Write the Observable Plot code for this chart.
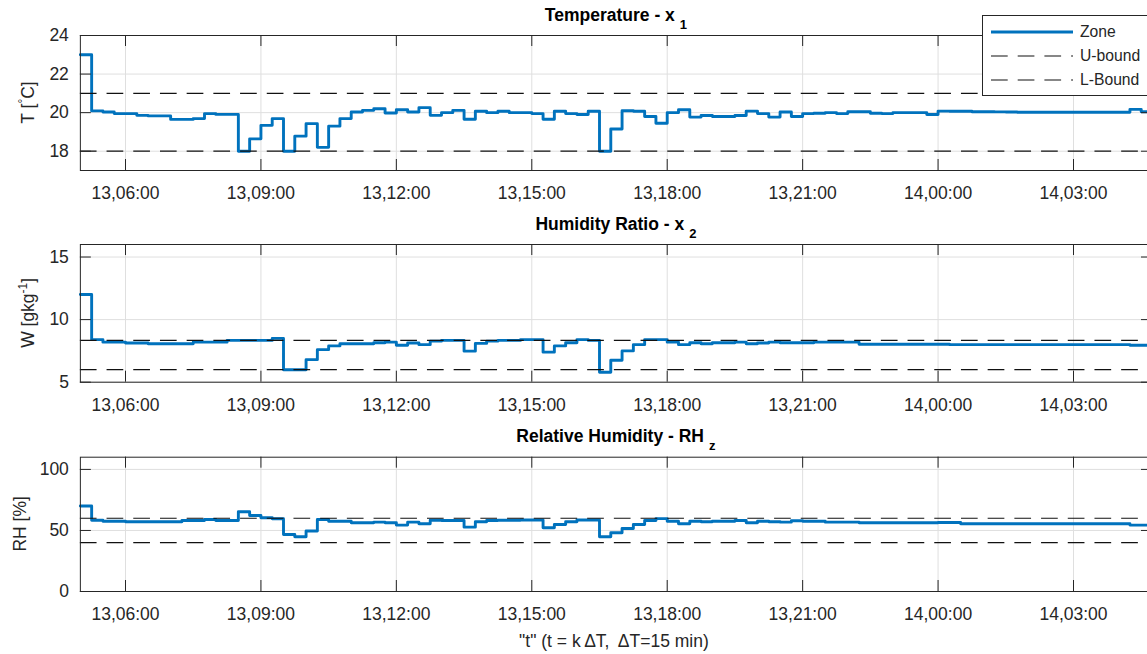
<!DOCTYPE html>
<html>
<head>
<meta charset="utf-8">
<script src="https://cdn.jsdelivr.net/npm/d3@7"></script>
<script src="https://cdn.jsdelivr.net/npm/@observablehq/plot@0.6"></script>
<style>
  html, body { margin: 0; padding: 0; background: #fff; }
  body { width: 1147px; height: 654px; overflow: hidden; position: relative; font-family: "Liberation Sans", Arial, sans-serif; }
  .panel { position: absolute; left: 0; width: 1147px; }
  .panel svg { overflow: hidden; }
</style>
</head>
<body>
<div id="p1" class="panel" style="top:0px"></div>
<div id="p2" class="panel" style="top:214px"></div>
<div id="p3" class="panel" style="top:424px"></div>
<script>
// ---- data ----
const nSteps = 95; // 15-min steps from day 13, 05:00
const tickPositions = [4, 16, 28, 40, 52, 64, 76, 88];
const tickLabels = ["13,06:00", "13,09:00", "13,12:00", "13,15:00", "13,18:00", "13,21:00", "14,00:00", "14,03:00"];

const temperature = [
  23, 20.09, 20.03, 19.95, 19.95, 19.86, 19.83, 19.83, 19.65, 19.65,
  19.69, 19.95, 19.91, 19.91, 18.0, 18.64, 19.34, 19.69, 18.0, 18.78,
  19.43, 18.2, 19.3, 19.69, 20.03, 20.12, 20.2, 19.98, 20.15, 20.03,
  20.26, 19.86, 20.0, 20.12, 19.66, 20.07, 20.0, 20.07, 20.0, 20.0,
  19.95, 19.66, 20.07, 19.95, 19.9, 20.07, 18.0, 19.15, 20.1, 20.07,
  19.8, 19.45, 20.0, 20.15, 19.77, 19.85, 19.8, 19.8, 19.85, 20.08,
  19.95, 19.77, 20.03, 19.8, 19.95, 19.97, 20.0, 19.95, 20.05, 20.05,
  19.97, 19.95, 20.0, 20.0, 20.0, 19.9, 20.08, 20.07, 20.07, 20.05,
  20.05, 20.04, 20.03, 20.02, 20.02, 20.02, 20.02, 20.02, 20.02, 20.02,
  20.02, 20.02, 20.02, 20.17, 20.05
];
const humidity = [
  12.0, 8.4, 8.2, 8.2, 8.13, 8.13, 8.07, 8.07, 8.07, 8.07,
  8.2, 8.2, 8.2, 8.34, 8.34, 8.34, 8.34, 8.5, 6.0, 6.0,
  6.8, 7.6, 7.9, 8.07, 8.07, 8.07, 8.15, 8.2, 7.95, 8.13,
  8.0, 8.28, 8.34, 8.34, 7.48, 8.1, 8.28, 8.34, 8.34, 8.4,
  8.4, 7.4, 7.9, 8.15, 8.4, 8.34, 5.8, 6.75, 7.5, 8.0,
  8.4, 8.4, 8.2, 8.0, 8.15, 8.07, 8.15, 8.15, 8.2, 8.07,
  8.13, 8.2, 8.15, 8.15, 8.15, 8.2, 8.2, 8.2, 8.2, 8.03,
  8.03, 8.03, 8.03, 8.03, 8.03, 8.03, 8.03, 8.0, 8.0, 8.0,
  8.0, 8.0, 8.0, 8.0, 8.0, 8.0, 8.0, 8.0, 8.0, 8.0,
  8.0, 8.0, 8.0, 7.95, 7.95
];
const relHumidity = [
  70, 58.4, 57.6, 57.6, 57.1, 57.1, 57.1, 57.1, 57.1, 58.2,
  58.2, 59, 58.2, 58.2, 65.3, 62.3, 60.4, 59.6, 46.7, 44.8,
  49.5, 59, 57.6, 57.6, 56.3, 56.3, 56.8, 56.3, 54.4, 56.8,
  55.5, 58.4, 58.1, 58.1, 52.7, 57.1, 58.1, 58.4, 58.4, 58.6,
  58.6, 52.2, 54.9, 57.1, 58.6, 58.6, 44.8, 48.1, 51.6, 54.9,
  58.1, 59.7, 57.6, 55.5, 57.6, 57.1, 57.6, 57.6, 58.1, 56.3,
  57.6, 57.1, 56.8, 58, 57.5, 57.5, 56.8, 56.8, 56.8, 56.3,
  56.3, 56.3, 56.3, 56.3, 56.3, 56.3, 56.5, 56.5, 55.5, 55.5,
  55.5, 55.5, 55.5, 55.5, 55.5, 55.5, 55.5, 55.5, 55.5, 55.5,
  55.5, 55.5, 55.5, 54.4, 54.4
];
const tempBounds = [21, 18];
const humBounds = [8.34, 6];
const rhBounds = [60, 40];
const legendLabels = ["Zone", "U-bound", "L-Bound"];

// ---- layout / style ----
const W = 1147, X0 = 79.86, X1 = 1152;
const BLUE = "#0072BD", AX = "#262626", GRID = "#dfdfdf";
const FONT = "Liberation Sans, Arial, Helvetica, sans-serif";
const FS = 17.5;
const DASH = "16.7,10";
const LW = 2.9;

function panel(el, cfg) {
  const {values, bounds, yDomain, yTicks, height, mt, mb, title, sub, ylab, ylabX} = cfg;
  const rows = values.map((v, i) => ({k: i, v}));
  rows.push({k: nSteps, v: values[values.length - 1]});
  const fh = height - mt - mb, fw = X1 - X0;
  const svgEl = Plot.plot({
    width: W, height,
    marginLeft: X0, marginRight: W - X1, marginTop: mt, marginBottom: mb,
    x: {domain: [0, nSteps], range: [X0, X1]},
    y: {domain: yDomain},
    style: {fontFamily: FONT, fontSize: FS + "px", color: AX, background: "white"},
    marks: [
      Plot.gridX(tickPositions, {stroke: GRID, strokeOpacity: 1, strokeWidth: 1}),
      Plot.gridY(yTicks, {stroke: GRID, strokeOpacity: 1, strokeWidth: 1}),
      Plot.line(rows, {x: "k", y: "v", curve: "step-after", stroke: BLUE, strokeWidth: LW}),
      Plot.ruleY(bounds, {stroke: "#111", strokeWidth: 1.2, strokeDasharray: DASH}),
      Plot.frame({stroke: AX, strokeWidth: 1}),
      Plot.ruleX(tickPositions, {stroke: AX, insetTop: fh - 11}),
      Plot.ruleX(tickPositions, {stroke: AX, insetBottom: fh - 11}),
      Plot.ruleY(yTicks, {stroke: AX, insetRight: fw - 11}),
      Plot.ruleY(yTicks, {stroke: AX, insetLeft: fw - 11}),
      Plot.axisX(tickPositions, {tickSize: 0, tickPadding: 16.5, label: null,
        tickFormat: d => tickLabels[tickPositions.indexOf(d)], fill: AX}),
      Plot.axisY(yTicks, {tickSize: 0, tickPadding: 11.5, label: null, fill: AX})
    ]
  });
  el.appendChild(svgEl);
  const svg = d3.select(svgEl);
  // title
  const t = svg.append("text")
    .attr("x", (X0 + X1) / 2).attr("y", mt - 14.5)
    .attr("text-anchor", "middle").attr("font-family", FONT)
    .attr("font-weight", "bold").attr("font-size", FS).attr("fill", "#000");
  t.append("tspan").text(title);
  t.append("tspan").attr("dx", 5).attr("dy", 8).attr("font-size", 13).text(sub);
  // y label
  const yl = svg.append("text")
    .attr("transform", `translate(${ylabX},${mt + fh / 2}) rotate(-90)`)
    .attr("text-anchor", "middle").attr("font-family", FONT)
    .attr("font-size", FS).attr("fill", AX);
  ylab(yl);
  return {svg, fh};
}

const p1 = panel(document.getElementById("p1"), {
  values: temperature, bounds: tempBounds, yDomain: [17, 24], yTicks: [18, 20, 22, 24],
  height: 214, mt: 35, mb: 44, title: "Temperature - x", sub: "1", ylabX: 33.5,
  ylab: g => { g.append("tspan").text("T ["); g.append("tspan").attr("dy", -7).attr("font-size", 12).text("°");
               g.append("tspan").attr("dy", 7).text("C]"); }
});
panel(document.getElementById("p2"), {
  values: humidity, bounds: humBounds, yDomain: [5, 16], yTicks: [5, 10, 15],
  height: 210, mt: 30, mb: 42.3, title: "Humidity Ratio - x", sub: "2", ylabX: 34,
  ylab: g => { g.append("tspan").text("W [gkg"); g.append("tspan").attr("dy", -7).attr("font-size", 12).text("-1");
               g.append("tspan").attr("dy", 7).text("]"); }
});
const p3 = panel(document.getElementById("p3"), {
  values: relHumidity, bounds: rhBounds, yDomain: [0, 110], yTicks: [0, 50, 100],
  height: 230, mt: 32.7, mb: 63, title: "Relative Humidity - RH", sub: "z", ylabX: 26,
  ylab: g => { g.append("tspan").text("RH [%]"); }
});
// x label
p3.svg.append("text").attr("x", (X0 + X1) / 2 - 2).attr("y", 222.5)
  .attr("text-anchor", "middle").attr("font-family", FONT).attr("font-size", FS).attr("fill", AX)
  .text('"t" (t = k\u2009\u0394T, \u2009\u0394T=15 min)');

// legend (top panel)
const lg = p1.svg.append("g");
lg.append("rect").attr("x", 982.5).attr("y", 15.5).attr("width", 200).attr("height", 80)
  .attr("fill", "white").attr("stroke", AX).attr("stroke-width", 1);
const legendY = [32, 56, 80];
legendLabels.forEach((lab, i) => {
  lg.append("line").attr("x1", 991).attr("x2", 1073).attr("y1", legendY[i]).attr("y2", legendY[i])
    .attr("stroke", i === 0 ? BLUE : "#111").attr("stroke-width", i === 0 ? LW : 1.2)
    .attr("stroke-dasharray", i === 0 ? null : DASH);
  lg.append("text").attr("x", 1080).attr("y", legendY[i]).attr("dy", "0.35em")
    .attr("text-anchor", "start")
    .attr("font-family", FONT).attr("font-size", 15.7).attr("fill", AX).text(lab);
});
</script>
</body>
</html>
